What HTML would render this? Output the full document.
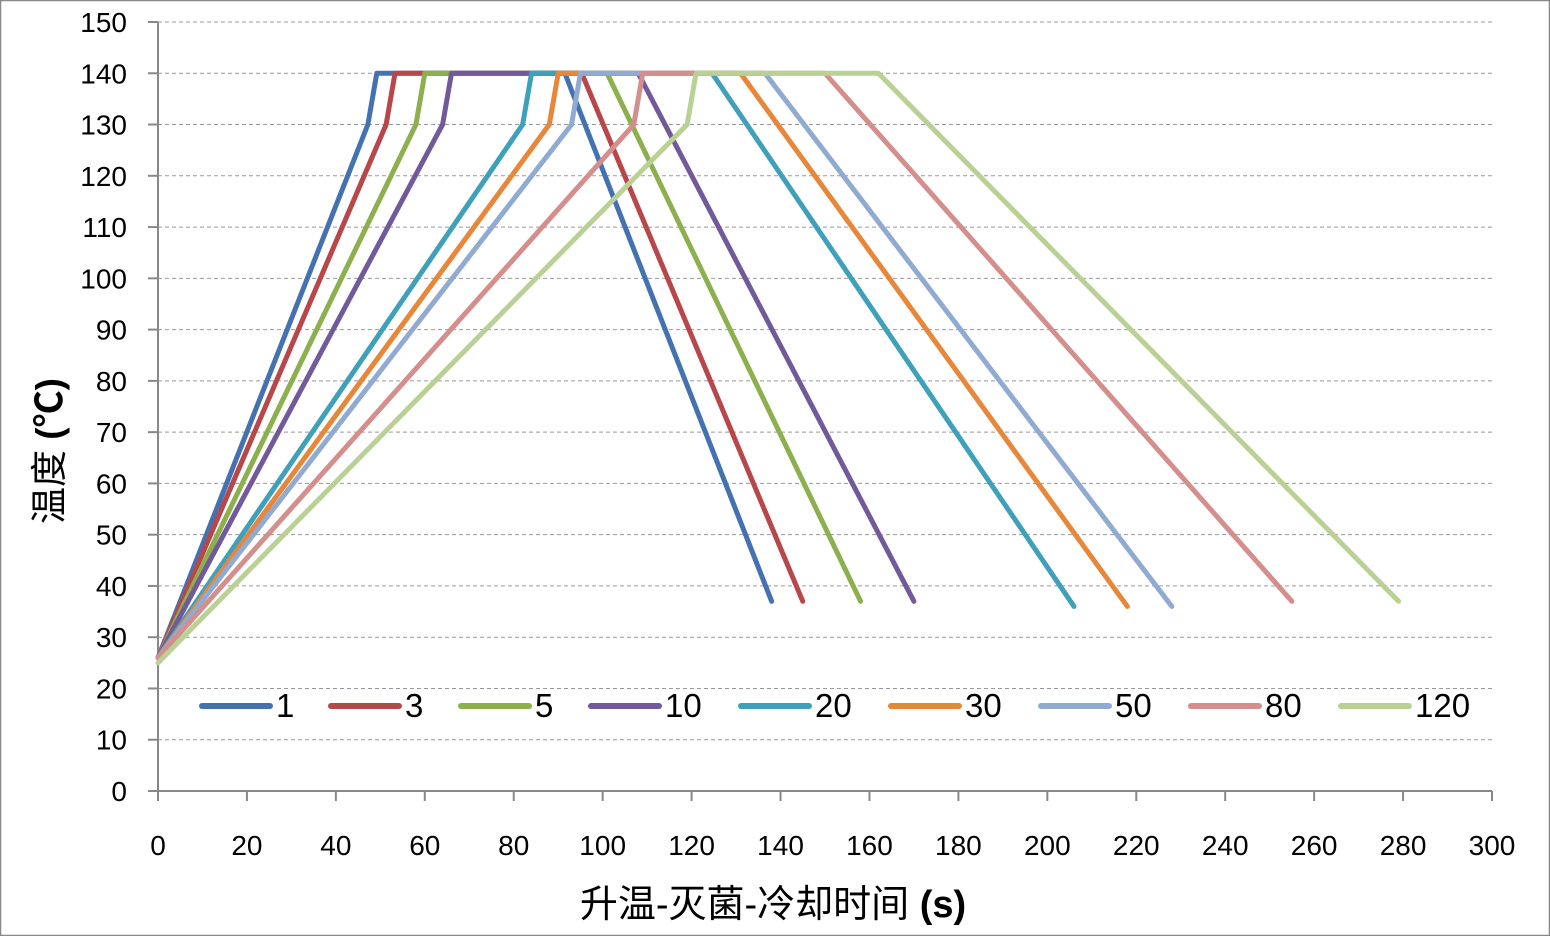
<!DOCTYPE html>
<html><head><meta charset="utf-8"><style>
html,body{margin:0;padding:0;background:#fff}
svg{display:block}
text{font-family:"Liberation Sans","Noto Sans CJK SC",sans-serif;fill:#000}
</style></head><body>
<svg id="s" width="1550" height="936" viewBox="0 0 1550 936" xmlns="http://www.w3.org/2000/svg">
<rect x="0.5" y="0.5" width="1549" height="935" fill="#fff" stroke="#888" stroke-width="1.5"/>
<g id="grid"></g><g id="axes"></g><g id="series"></g><g id="legend"></g>
<text x="50" y="451" font-size="37" text-anchor="middle" transform="rotate(-90 50 451)" dy="12">温度 <tspan font-weight="bold">(℃)</tspan></text>
<text x="773" y="917" font-size="38" text-anchor="middle">升温-灭菌-冷却时间 <tspan font-weight="bold">(s)</tspan></text>
</svg>
<script>
var NS="http://www.w3.org/2000/svg";
function X(v){return 158+v*1334/300}
function Y(v){return 791-v*769/150}
function el(p,t,a,txt){var e=document.createElementNS(NS,t);for(var k in a)e.setAttribute(k,a[k]);if(txt!=null)e.textContent=txt;document.getElementById(p).appendChild(e);return e}
for(var v=0;v<=150;v+=10){var y=Y(v);
 if(v>0)el("grid","line",{x1:158,x2:1492,y1:y,y2:y,stroke:"#999","stroke-width":1,"stroke-dasharray":"4,3"});
 el("axes","line",{x1:148,x2:158,y1:y,y2:y,stroke:"#888","stroke-width":2});
 el("axes","text",{x:127,y:y+10,"font-size":28,"text-anchor":"end"},v);}
el("axes","line",{x1:158,x2:158,y1:Y(150),y2:791,stroke:"#888","stroke-width":2});
el("axes","line",{x1:158,x2:1492,y1:791,y2:791,stroke:"#888","stroke-width":2});
for(var v=0;v<=300;v+=20){var x=X(v);
 el("axes","line",{x1:x,x2:x,y1:791,y2:801,stroke:"#888","stroke-width":2});
 el("axes","text",{x:x,y:855,"font-size":28,"text-anchor":"middle"},v);}
var S=[
["1","#4472B0",47.2,91.5,138,37,26],
["3","#B8474A",51.3,95.3,145,37,26],
["5","#8DB04E",58,101,158,37,26],
["10","#72599A",64,108,170,37,26],
["20","#3FA0BA",82,124.6,206,36,26],
["30","#E8863A",88,131,218,36,26],
["50","#90AAD2",93,136.5,228,36,26],
["80","#D48E8C",107,150,255,37,26],
["120","#BAD196",119,162,279,37,25]];
S.forEach(function(s){
 var pts=[[0,s[6]],[s[2],130],[s[2]+2,140],[s[3],140],[s[4],s[5]]];
 el("series","polyline",{points:pts.map(function(p){return X(p[0])+","+Y(p[1])}).join(" "),fill:"none",stroke:s[1],"stroke-width":5,"stroke-linejoin":"round","stroke-linecap":"round"});
});
var lx=[202,331,461,591,741,891,1041,1191,1341];
S.forEach(function(s,i){
 el("legend","line",{x1:lx[i],x2:lx[i]+68,y1:706,y2:706,stroke:s[1],"stroke-width":6,"stroke-linecap":"round"});
 el("legend","text",{x:lx[i]+74,y:717,"font-size":33},s[0]);
});
</script>
</body></html>
